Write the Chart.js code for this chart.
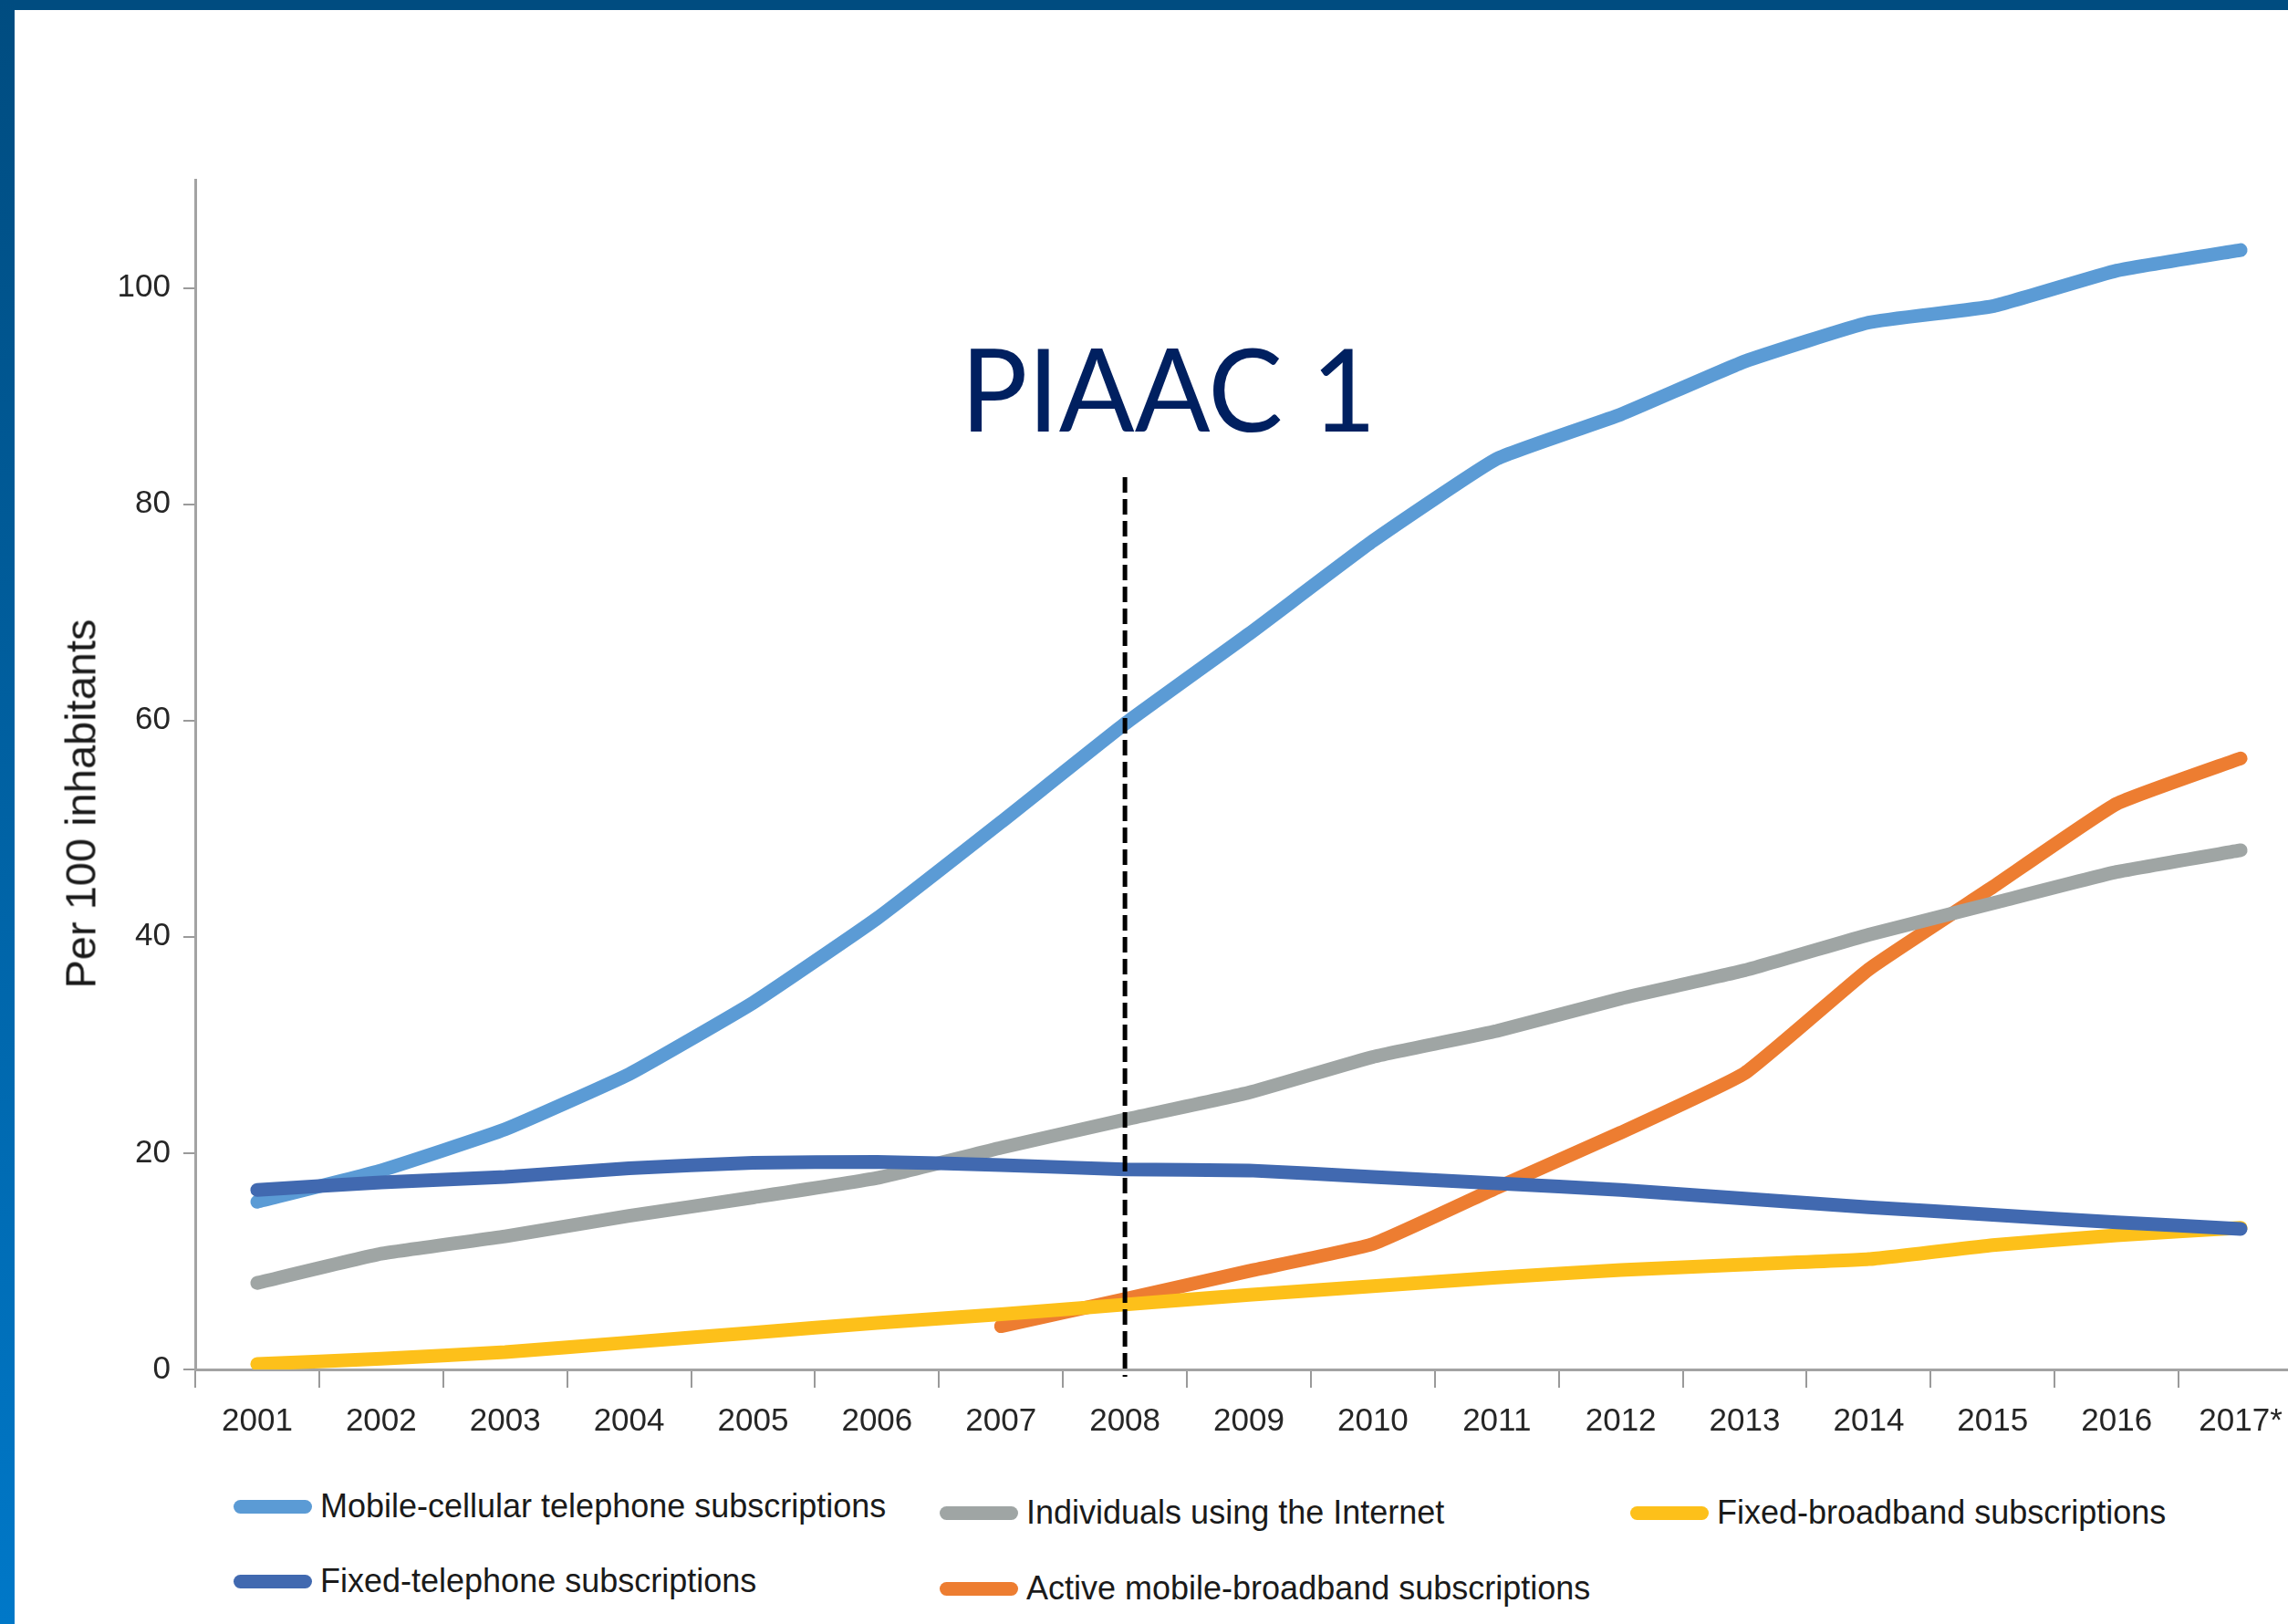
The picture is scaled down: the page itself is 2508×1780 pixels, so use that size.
<!DOCTYPE html>
<html>
<head>
<meta charset="utf-8">
<script src="https://cdn.jsdelivr.net/npm/chart.js@4.4.1/dist/chart.umd.min.js"></script>
<style>
html,body{margin:0;padding:0;width:2508px;height:1780px;overflow:hidden;background:#ffffff;}
#wrap{position:absolute;left:0;top:0;width:2530px;height:1600px;}
#frameTop{position:absolute;left:0;top:0;width:2508px;height:11px;background:#004c80;}
#frameLeft{position:absolute;left:0;top:0;width:16px;height:1780px;background:linear-gradient(#004c80,#0078c8);}
#ytitle{position:absolute;left:88px;top:881px;transform:translate(-50%,-50%) rotate(-90deg);font-family:'Liberation Sans';font-size:47px;color:#1a1a1a;white-space:nowrap;}
#piaac{position:absolute;left:1053px;top:361px;font-family:'Lato';font-size:127px;line-height:127px;color:#002060;white-space:nowrap;transform-origin:0 0;}
.leg{position:absolute;display:flex;align-items:center;height:60px;transform:translateY(-50%);font-family:'Liberation Sans';font-size:36px;color:#1a1a1a;white-space:nowrap;}
.sw{width:86px;height:15px;border-radius:7.5px;margin-right:9px;flex:none;}
</style>
</head>
<body>
<div id="wrap"><canvas id="c" width="2530" height="1600"></canvas></div>
<div id="ytitle">Per 100 inhabitants</div>
<div id="piaac">PIAAC 1</div>
<div id="legend"></div>
<div id="frameTop"></div>
<div id="frameLeft"></div>
<script>
// ---- data ----
const years = ['2001','2002','2003','2004','2005','2006','2007','2008','2009','2010','2011','2012','2013','2014','2015','2016','2017*'];
const mobileCellular = [15.5,18.4,22.2,27.3,33.9,41.7,50.6,59.7,68.0,76.6,84.2,88.3,93.2,96.8,98.3,101.6,103.5];
const internetUsers  = [8.0,10.7,12.3,14.2,15.9,17.7,20.5,23.1,25.6,28.9,31.3,34.3,36.9,40.2,43.1,46.0,48.0];
const fixedBroadband = [0.5,1.0,1.6,2.5,3.4,4.3,5.1,6.0,6.9,7.7,8.5,9.2,9.7,10.2,11.5,12.4,13.1];
const fixedTelephone = [16.6,17.3,17.8,18.6,19.1,19.2,18.9,18.5,18.4,17.8,17.2,16.6,15.8,15.0,14.3,13.6,13.0];
const activeMobileBB = [null,null,null,null,null,null,4.0,6.5,9.1,11.6,16.8,21.9,27.4,37.0,44.6,52.3,56.5];
const yTicks = [0,20,40,60,80,100];
const markerYear = '2008';
const markerTop = 82.5;

const seriesNames = ['Mobile-cellular telephone subscriptions','Individuals using the Internet','Fixed-broadband subscriptions','Fixed-telephone subscriptions','Active mobile-broadband subscriptions'];
const seriesColors = ['#5b9bd5','#9fa5a4','#fdc01a','#4169b0','#ed7d31'];
const seriesData = [mobileCellular, internetUsers, fixedBroadband, fixedTelephone, activeMobileBB];
const seriesOrder = [1,2,3,0,4];

const datasets = seriesData.map((d,i)=>({
  label: seriesNames[i],
  data: d,
  borderColor: seriesColors[i],
  backgroundColor: seriesColors[i],
  borderWidth: 15,
  borderCapStyle: 'round',
  borderJoinStyle: 'round',
  pointRadius: 0,
  pointHoverRadius: 0,
  fill: false,
  tension: 0.12,
  order: seriesOrder[i]
}));

const tickFont = {family:'Liberation Sans', size:35};

const markerPlugin = {
  id: 'marker',
  afterDatasetsDraw(chart){
    const {ctx, scales:{x, y}} = chart;
    const px = x.getPixelForValue(years.indexOf(markerYear));
    ctx.save();
    ctx.setLineDash([17,7]);
    ctx.lineWidth = 5;
    ctx.strokeStyle = '#000000';
    ctx.beginPath();
    ctx.moveTo(px, y.getPixelForValue(markerTop));
    ctx.lineTo(px, y.getPixelForValue(0) + 8);
    ctx.stroke();
    ctx.restore();
  }
};

new Chart(document.getElementById('c'), {
  type: 'line',
  data: { labels: years, datasets },
  options: {
    responsive: false,
    animation: false,
    devicePixelRatio: 1,
    layout: { padding: { left: 65, top: 197, right: 6, bottom: 0 } },
    plugins: { legend: { display: false }, tooltip: { enabled: false } },
    scales: {
      x: {
        type: 'category',
        offset: true,
        grid: { offset: true, drawOnChartArea: false, drawTicks: true, tickLength: 20, color: '#9a9a9a', lineWidth: 2 },
        border: { display: true, color: '#a3a3a3', width: 3 },
        ticks: { padding: 16, color: '#262626', font: tickFont, maxRotation: 0, autoSkip: false },
        afterFit: s => { s.height = 99; }
      },
      y: {
        min: 0, max: 110,
        afterBuildTicks: s => { s.ticks = s.ticks.filter(t => yTicks.includes(t.value)); },
        grid: { drawOnChartArea: false, drawTicks: true, tickLength: 13, color: '#9a9a9a', lineWidth: 2 },
        border: { display: true, color: '#a3a3a3', width: 3 },
        ticks: { stepSize: 20, padding: 14, color: '#262626', font: tickFont },
        afterFit: s => { s.width = 149; }
      }
    }
  },
  plugins: [markerPlugin]
});

// ---- legend (HTML) ----
const legendPos = [[256,1651],[1030,1658],[1787,1658],[256,1733],[1030,1741]];
const legend = document.getElementById('legend');
seriesNames.forEach((name,i)=>{
  const item = document.createElement('div');
  item.className = 'leg';
  item.style.left = legendPos[i][0] + 'px';
  item.style.top = legendPos[i][1] + 'px';
  const sw = document.createElement('div');
  sw.className = 'sw';
  sw.style.background = seriesColors[i];
  const tx = document.createElement('span');
  tx.textContent = name;
  item.appendChild(sw); item.appendChild(tx);
  legend.appendChild(item);
});

// fit PIAAC label width
const p = document.getElementById('piaac');
p.style.transform = 'scaleX(' + (455 / p.offsetWidth) + ')';
</script>
</body>
</html>
